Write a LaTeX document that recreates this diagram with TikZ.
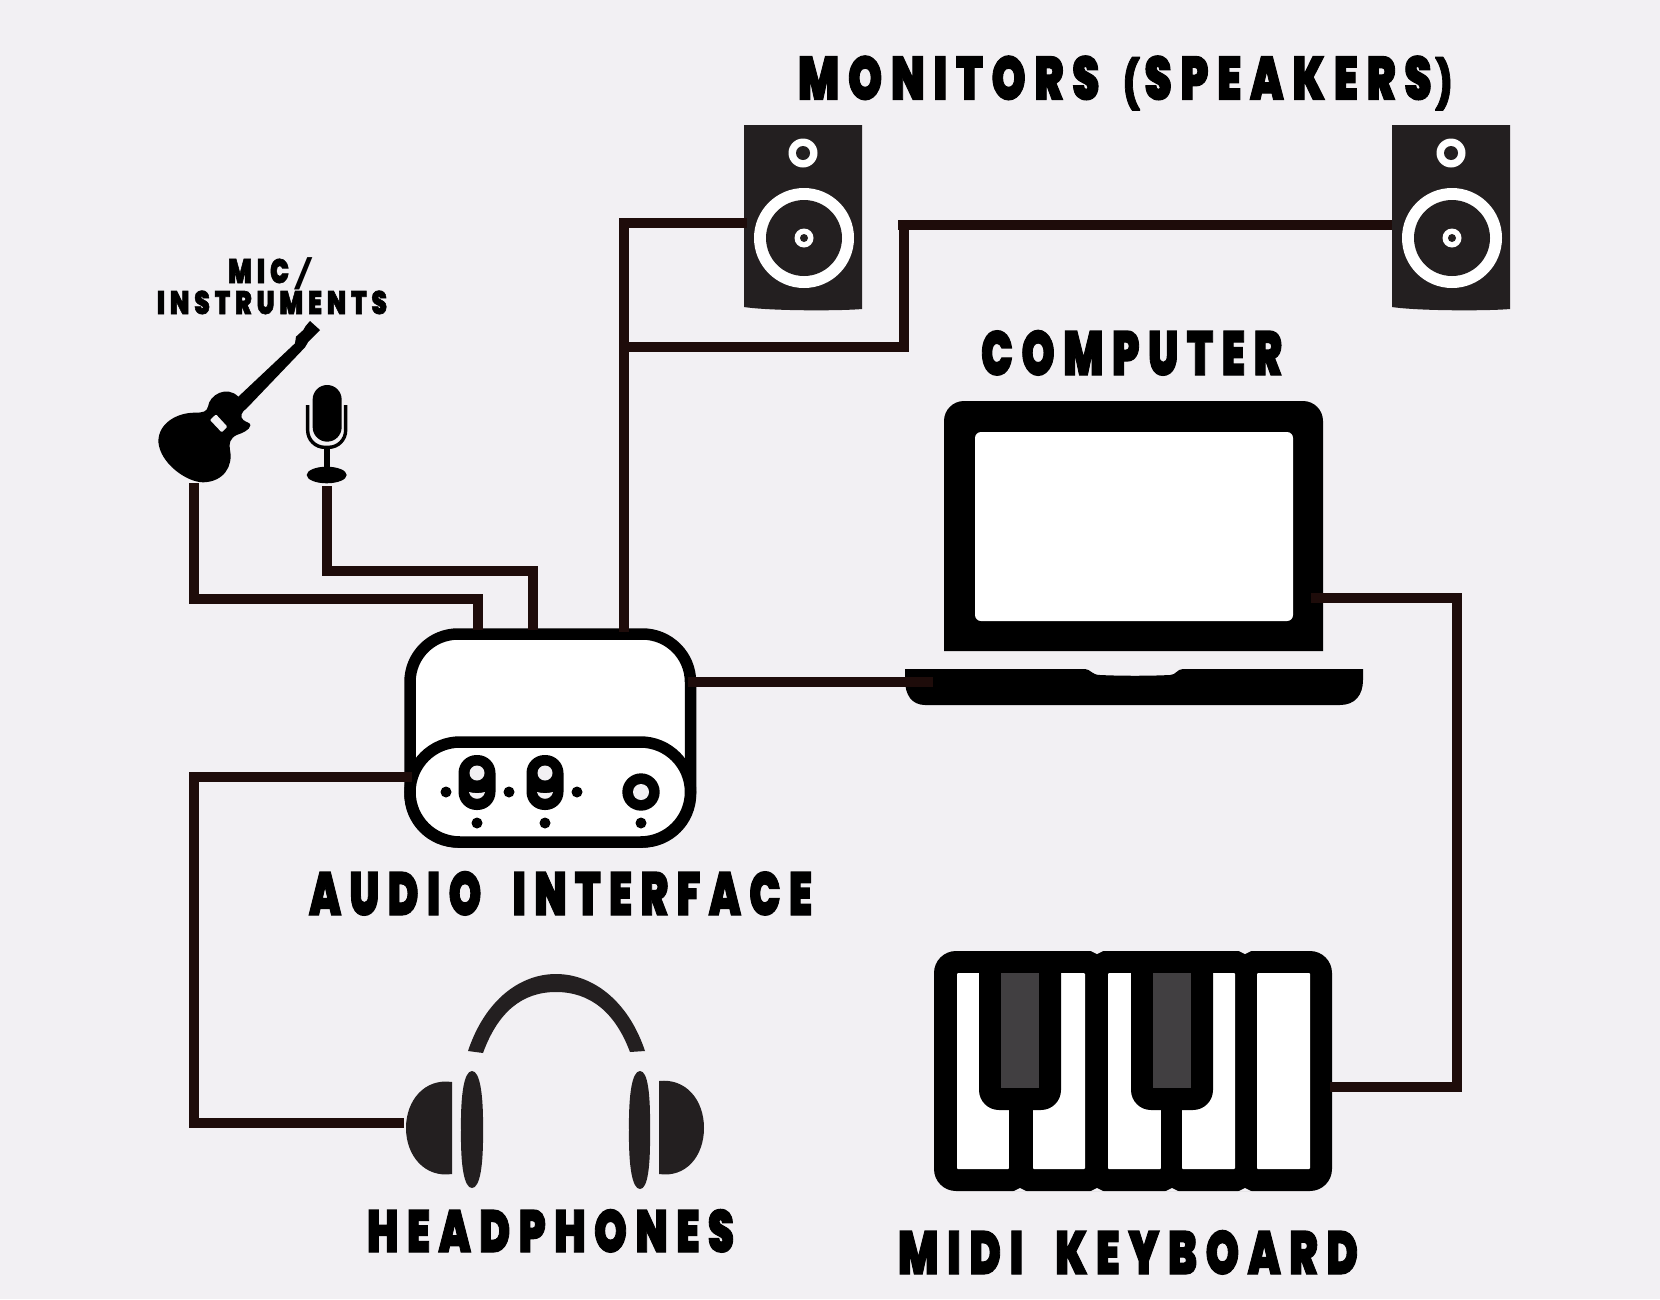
\documentclass[tikz,border=0pt]{standalone}
\usepackage{fontspec}
\usepackage{graphicx}
\newfontfamily\lblfont{Poppins Black}[LetterSpace=20,FakeBold=2]
\newfontfamily\slashfont{Liberation Sans}
\definecolor{bgc}{HTML}{F2F0F3}
\definecolor{wirec}{HTML}{1E0C0A}
\definecolor{spk}{HTML}{231F20}
\definecolor{keyd}{HTML}{413F41}
\newlength\capH
\newlength\txtW
\newcommand{\wsp}{\hspace{0.75em}}
\newcommand{\parn}[1]{\scalebox{0.8}[0.78]{#1}}
\newcommand{\fitcap}[3]{\begingroup\fontsize{40}{40}\lblfont
  \settoheight{\capH}{H}\settowidth{\txtW}{#3}%
  \pgfmathsetmacro\sx{#1/\txtW}\pgfmathsetmacro\sy{#2/\capH}%
  \scalebox{\sx}[\sy]{#3}\endgroup}
\tikzset{
  wire/.style={draw=wirec,line width=10pt,miter limit=10},
  lbl/.style={anchor=base west,inner sep=0pt,outer sep=0pt},
  devline/.style={draw=black,line width=11.5pt},
  jack/.style={fill=black,circle,inner sep=0pt,minimum size=11pt}
}
\begin{document}
\begin{tikzpicture}[x=1pt,y=-1pt]
\useasboundingbox (0,0) rectangle (1660,1299);
\fill[bgc] (0,0) rectangle (1660,1299);
% labels
\node[lbl] (tmon) at (798,99.5) {\fitcap{654}{43}{MONITORS\hspace{0.55em}\parn{(}\hspace{0.12em}SPEAKERS\hspace{0.1em}\parn{)}}};
\node[lbl] (tcomp) at (981,375) {\fitcap{301}{44}{COMPUTER}};
\node[lbl] (taud) at (309,915) {\fitcap{503}{43}{AUDIO\wsp INTERFACE}};
\node[lbl] (thead) at (367,1252) {\fitcap{367}{42}{HEADPHONES}};
\node[lbl] (tmidi) at (898,1274) {\fitcap{460}{43}{MIDI\wsp KEYBOARD}};
\node[lbl] (tmic) at (228,283) {\fitcap{61}{24}{MIC}};
\node[lbl] (tinst) at (157,314) {\fitcap{230}{23}{INSTRUMENTS}};
\node[inner sep=0pt] (tslash) at (303.5,273.5) {\scalebox{1.5}[1.0]{\fontsize{44}{44}\slashfont /}};
% speakers
\foreach \dx/\nm in {0/a,648/b}{
\begin{scope}[xshift=\dx pt]
\fill[spk] (744,125) -- (862,125) -- (862,309) .. controls (840,311) and (770,311) .. (744,307) -- cycle;
\fill[white] (803,153) circle (14.5pt);
\fill[spk] (803,153) circle (7pt);
\fill[white] (804,238) circle (50pt);
\fill[spk] (804,238) circle (38pt);
\fill[white] (804,238) circle (9.5pt);
\fill[spk] (804,238) circle (4pt);
\end{scope}}
% guitar
\begin{scope}[shift={(140,240)},x=0.33333pt,y=-0.33333pt]
\fill[black] (510,243) -- (540,270) -- (505,305) -- (495,322) -- (320,505)
  .. controls (305,515) and (298,530) .. (310,540)
  .. controls (320,548) and (332,548) .. (331,556)
  .. controls (330,570) and (305,580) .. (290,585)
  .. controls (270,595) and (266,610) .. (270,630)
  .. controls (280,680) and (250,725) .. (190,727)
  .. controls (140,727) and (60,670) .. (55,605)
  .. controls (55,550) and (110,518) .. (165,518)
  .. controls (190,518) and (200,515) .. (204,500)
  .. controls (208,465) and (260,435) .. (295,470)
  -- (465,310) -- (468,290) -- (490,270) -- (497,258) -- cycle;
\fill[bgc,rounded corners=1pt] (210,540) -- (228,523) -- (262,560) -- (245,577) -- cycle;
% microphone
\fill[black,rounded corners=14.5pt] (518,435) rectangle (605,605);
\draw[black,line width=3.4pt,rounded corners=17pt] (503,495) -- (503,622) -- (617,622) -- (617,495);
\fill[black] (552,620) rectangle (570,690);
\fill[black] (560,705) ellipse [x radius=20pt,y radius=8.3pt];
\end{scope}
% laptop
\fill[black] (944,651) [rounded corners=20pt] -- (944,401) -- (1323,401) [sharp corners] -- (1323,651) -- cycle;
\fill[white,rounded corners=6pt] (975,432) rectangle (1293,621);
\fill[black] (905,669) -- (1085,669) .. controls (1090,669) and (1092,675) .. (1100,675)
  .. controls (1120,676) and (1150,676) .. (1170,675)
  .. controls (1176,675) and (1177,669) .. (1183,669) -- (1363,669) -- (1363,680)
  .. controls (1363,695) and (1355,705) .. (1340,705) -- (925,705)
  .. controls (912,705) and (905,695) .. (905,680) -- cycle;
% audio interface
\draw[devline,fill=white,rounded corners=48pt] (410,634) rectangle (690.5,842);
\draw[devline,fill=white,rounded corners=50pt] (410,742) rectangle (690.5,842);
\foreach \kx in {477,545}{
  \fill[black,rounded corners=18pt] (\kx-18.5,755) rectangle (\kx+18.5,810);
  \fill[bgc] (\kx,773) circle (7.5pt);
  \fill[bgc] (\kx-8,792) .. controls (\kx-6,801) and (\kx+6,801) .. (\kx+8,792) .. controls (\kx+3,793.5) and (\kx-3,793.5) .. (\kx-8,792) -- cycle;
  \node[jack] at (\kx,823) {};
}
\fill[black] (641,792) circle (18.7pt);
\fill[bgc] (641,792) circle (8pt);
\foreach \n/\dx/\dy in {d1/446/792,d2/509/792,d3/577/792,d4/641/823}{
  \node[jack] (\n) at (\dx,\dy) {};
}
% headphones
\fill[spk] (468,1051) .. controls (485,1000) and (520,974) .. (556,974)
  .. controls (592,974) and (628,1000) .. (645,1051) -- (630,1052)
  .. controls (615,1012) and (590,992) .. (556,992)
  .. controls (522,992) and (498,1012) .. (483,1053) -- cycle;
\fill[spk] (452,1082) .. controls (425,1078) and (406,1100) .. (406,1128) .. controls (406,1156) and (425,1178) .. (452,1174) -- cycle;
\fill[spk] (659,1081) .. controls (686,1078) and (704,1100) .. (704,1128) .. controls (704,1156) and (686,1178) .. (659,1174) -- cycle;
\fill[spk] (472,1071) .. controls (480,1071) and (483.5,1095) .. (483,1130) .. controls (483.5,1165) and (480,1188) .. (472,1188) .. controls (464,1188) and (460.5,1165) .. (461,1130) .. controls (460.5,1095) and (464,1071) .. (472,1071) -- cycle;
\fill[spk] (640,1071) .. controls (648,1071) and (650.5,1095) .. (650,1130) .. controls (650.5,1165) and (648,1189) .. (640,1189) .. controls (632,1189) and (628.5,1165) .. (629,1130) .. controls (628.5,1095) and (632,1071) .. (640,1071) -- cycle;
% keyboard
\fill[black,rounded corners=22pt] (934,951) rectangle (1332,1191);
\foreach \nx in {1020,1097,1172,1245}{\fill[bgc] (\nx-7,1191.5) -- (\nx,1188) -- (\nx+7,1191.5) -- cycle;}
\foreach \nx in {1097,1245}{\fill[bgc] (\nx-7,950.5) -- (\nx,954) -- (\nx+7,950.5) -- cycle;}
\foreach \ka/\kb in {957/1009,1033/1085,1108/1161,1182/1235,1257/1310}{
  \fill[white,rounded corners=1pt] (\ka,973) rectangle (\kb,1169);
}
\foreach \ba/\bb/\sa/\sb/\ia/\ib in {979/1061/1009/1033/1001/1039,1131/1213/1161/1182/1153/1191}{
  \fill[black,rounded corners=20pt] (\ba,951) rectangle (\bb,1110);
  \fill[black] (\sa,1100) rectangle (\sb,1175);
  \fill[keyd] (\ia,973) rectangle (\ib,1088);
}
% ports
\coordinate (gtrout) at (194,483);
\coordinate (micout) at (327,486);
\coordinate (ifgtr) at (478,630);
\coordinate (ifmic) at (533,630);
\coordinate (ifmon) at (624,632);
\coordinate (ifpc) at (688,682);
\coordinate (ifhp) at (412,777);
\coordinate (gtrrail) at (194,599);
\coordinate (micrail) at (327,571);
\coordinate (monrail) at (624,223);
\coordinate (spka) at (747,223);
\coordinate (spkb) at (1392,225);
\coordinate (junc) at (624,347);
\coordinate (jbend) at (904,347);
\coordinate (jtop) at (898,225);
\coordinate (jcorner) at (904,225);
\coordinate (lapin) at (933,682);
\coordinate (lapout) at (1311,598);
\coordinate (kbrail) at (1457,598);
\coordinate (kbin) at (1330,1087);
\coordinate (hprail) at (194,777);
\coordinate (hpin) at (404,1123);
% wires
\draw[wire] (gtrout) |- (gtrrail -| ifgtr) -- (ifgtr);
\draw[wire] (micout) |- (micrail -| ifmic) -- (ifmic);
\draw[wire] (ifmon) -- (monrail) -- (spka);
\draw[wire] (junc) -- (jbend) -- (jcorner);
\draw[wire] (jtop) -- (spkb);
\draw[wire] (ifpc) -- (lapin);
\draw[wire] (lapout) -- (kbrail) |- (kbin);
\draw[wire] (ifhp) -- (hprail) |- (hpin);
\end{tikzpicture}
\end{document}
